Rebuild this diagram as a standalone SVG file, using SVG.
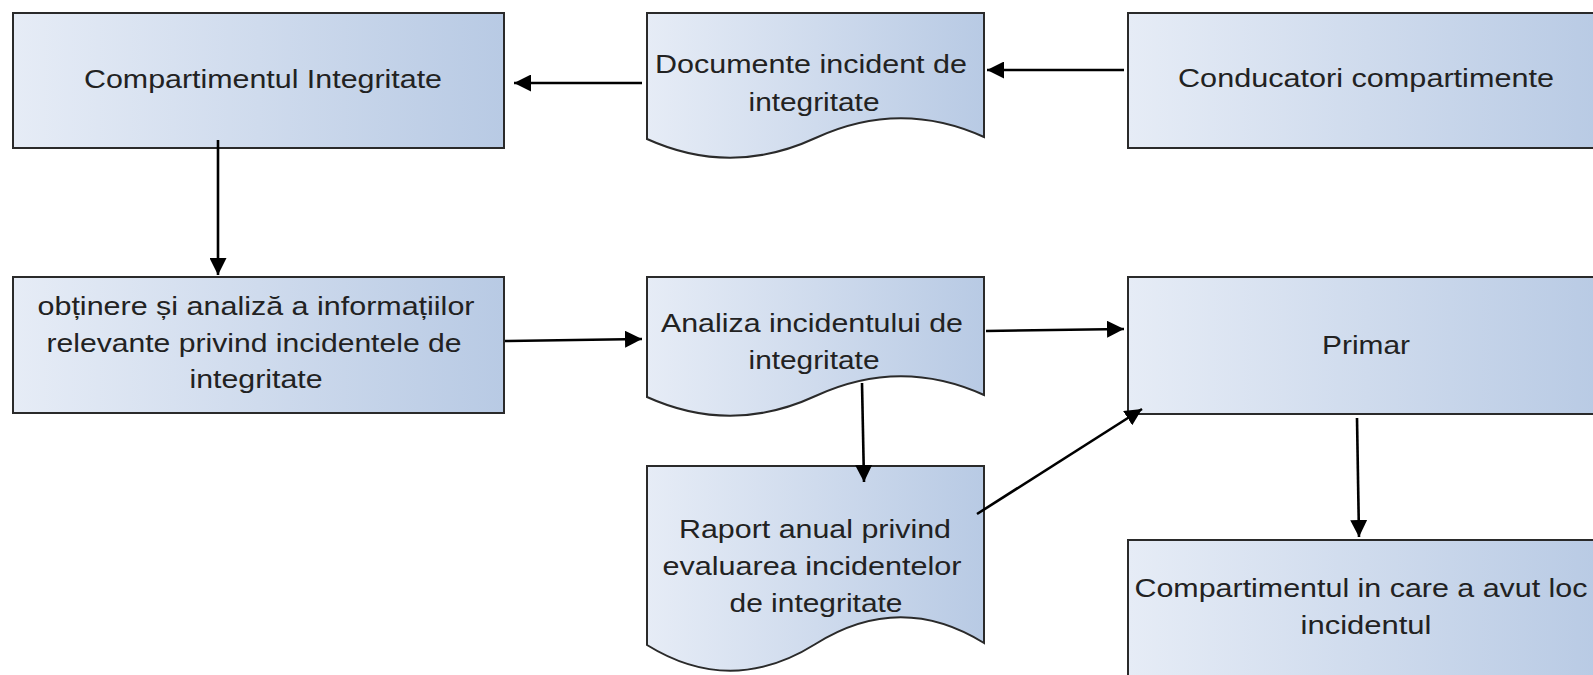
<svg xmlns="http://www.w3.org/2000/svg" width="1593" height="675" viewBox="0 0 1593 675">
  <defs>
    <linearGradient id="fillGrad" x1="0" y1="0" x2="1" y2="0">
      <stop offset="0" stop-color="#e6ecf6"/>
      <stop offset="1" stop-color="#b8cae4"/>
    </linearGradient>
    <marker id="arrow" markerUnits="userSpaceOnUse" markerWidth="18" markerHeight="17" refX="17" refY="8.5" orient="auto">
      <path d="M0,0 L17,8.5 L0,17 Z" fill="#000"/>
    </marker>
    <style>
      .box { fill: url(#fillGrad); stroke: #2a2a2a; stroke-width: 2; }
      .lbl { font-family: "Liberation Sans", Arial, sans-serif; font-size: 26px; fill: #222; text-anchor: middle; }
      .edge { fill: none; stroke: #000; stroke-width: 2.6; marker-end: url(#arrow); }
    </style>
  </defs>
  <rect width="1593" height="675" fill="#fff"/>

  <!-- process boxes -->
  <g id="compartiment-integritate">
    <rect class="box" x="13" y="13" width="491" height="135"/>
    <text class="lbl" x="263" y="88" textLength="358" lengthAdjust="spacingAndGlyphs">Compartimentul Integritate</text>
  </g>

  <g id="documente-incident">
    <path class="box" d="M647,13 H984 V137 Q900,99 815.5,138 Q731,177 647,139 Z"/>
    <text class="lbl" x="811" y="73" textLength="312" lengthAdjust="spacingAndGlyphs">Documente incident de</text>
    <text class="lbl" x="814" y="111" textLength="131" lengthAdjust="spacingAndGlyphs">integritate</text>
  </g>

  <g id="conducatori">
    <rect class="box" x="1128" y="13" width="478" height="135"/>
    <text class="lbl" x="1366" y="87" textLength="376" lengthAdjust="spacingAndGlyphs">Conducatori compartimente</text>
  </g>

  <g id="obtinere-analiza">
    <rect class="box" x="13" y="277" width="491" height="136"/>
    <text class="lbl" x="256" y="315" textLength="437" lengthAdjust="spacingAndGlyphs">obținere și analiză a informațiilor</text>
    <text class="lbl" x="254" y="352" textLength="415" lengthAdjust="spacingAndGlyphs">relevante privind incidentele de</text>
    <text class="lbl" x="256" y="388" textLength="133" lengthAdjust="spacingAndGlyphs">integritate</text>
  </g>

  <g id="analiza-incident">
    <path class="box" d="M647,277 H984 V395 Q900,357 815.5,396 Q731,435 647,397 Z"/>
    <text class="lbl" x="812" y="332" textLength="302" lengthAdjust="spacingAndGlyphs">Analiza incidentului de</text>
    <text class="lbl" x="814" y="369" textLength="131" lengthAdjust="spacingAndGlyphs">integritate</text>
  </g>

  <g id="primar">
    <rect class="box" x="1128" y="277" width="478" height="137"/>
    <text class="lbl" x="1366" y="354" textLength="88" lengthAdjust="spacingAndGlyphs">Primar</text>
  </g>

  <g id="raport-anual">
    <path class="box" d="M647,466 H984 V643 Q900,591 815.5,644 Q731,697 647,645 Z"/>
    <text class="lbl" x="815" y="538" textLength="272" lengthAdjust="spacingAndGlyphs">Raport anual privind</text>
    <text class="lbl" x="812" y="575" textLength="299" lengthAdjust="spacingAndGlyphs">evaluarea incidentelor</text>
    <text class="lbl" x="816" y="612" textLength="173" lengthAdjust="spacingAndGlyphs">de integritate</text>
  </g>

  <g id="compartiment-incident">
    <rect class="box" x="1128" y="540" width="478" height="180"/>
    <text class="lbl" x="1361" y="597" textLength="453" lengthAdjust="spacingAndGlyphs">Compartimentul in care a avut loc</text>
    <text class="lbl" x="1366" y="634" textLength="131" lengthAdjust="spacingAndGlyphs">incidentul</text>
  </g>

  <!-- connectors -->
  <g id="connectors">
    <path class="edge" d="M642,83 L514,83"/>
    <path class="edge" d="M1124,70 L987,70"/>
    <path class="edge" d="M218,140 L218,275"/>
    <path class="edge" d="M505,341 L642,339"/>
    <path class="edge" d="M986,331 L1124,329"/>
    <path class="edge" d="M862,383 L864,482"/>
    <path class="edge" d="M977,514 L1142,409"/>
    <path class="edge" d="M1357,418 L1359,537"/>
  </g>
</svg>
